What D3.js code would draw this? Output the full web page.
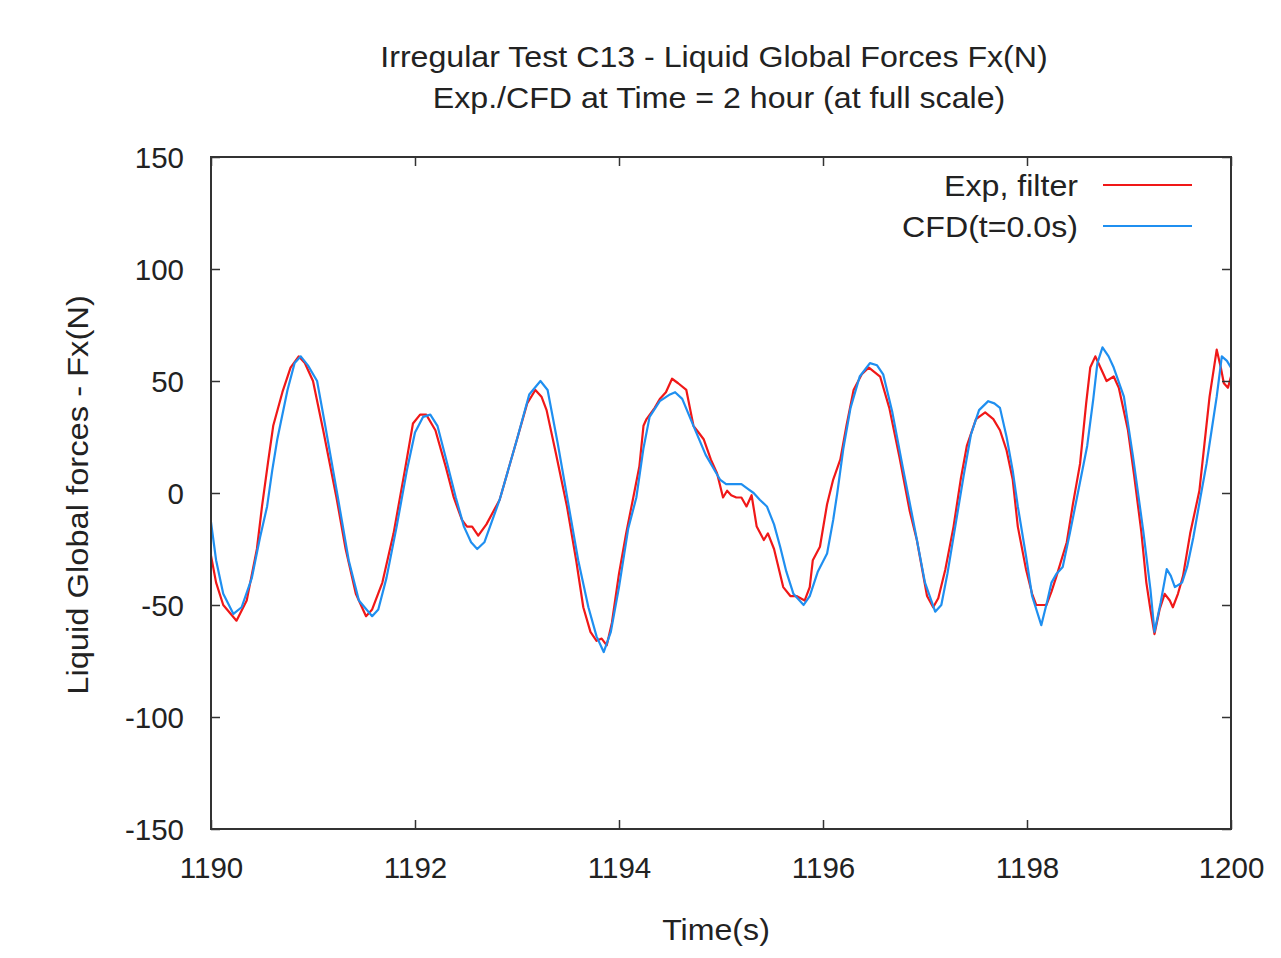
<!DOCTYPE html>
<html>
<head>
<meta charset="utf-8">
<script src="https://cdn.jsdelivr.net/npm/d3@7"></script>
<style>
  html, body { margin: 0; padding: 0; background: #fff; }
  text { font-family: "Liberation Sans", Arial, sans-serif; fill: #222; }
</style>
</head>
<body>
<svg id="chart" width="1281" height="958"></svg>
<script>
// ---- data ----
const titleLines = ["Irregular Test C13 - Liquid Global Forces Fx(N)", "Exp./CFD at Time = 2 hour (at full scale)"];
const xLabel = "Time(s)";
const yLabel = "Liquid Global forces - Fx(N)";
const seriesNames = ["Exp, filter", "CFD(t=0.0s)"];
const xTicks = [1190, 1192, 1194, 1196, 1198, 1200];
const yTicks = [-150, -100, -50, 0, 50, 100, 150];

const expTime = [1190.00,1190.05,1190.12,1190.25,1190.35,1190.45,1190.50,1190.56,1190.61,1190.70,1190.78,1190.86,1190.92,1191.00,1191.10,1191.23,1191.32,1191.42,1191.52,1191.58,1191.68,1191.79,1191.90,1191.98,1192.05,1192.11,1192.20,1192.30,1192.38,1192.46,1192.51,1192.56,1192.62,1192.70,1192.83,1193.00,1193.10,1193.18,1193.24,1193.29,1193.38,1193.49,1193.58,1193.65,1193.72,1193.78,1193.83,1193.88,1193.93,1194.00,1194.07,1194.14,1194.20,1194.24,1194.27,1194.35,1194.40,1194.46,1194.52,1194.58,1194.66,1194.73,1194.78,1194.83,1194.90,1194.96,1195.02,1195.06,1195.10,1195.15,1195.20,1195.25,1195.30,1195.35,1195.42,1195.46,1195.52,1195.61,1195.68,1195.74,1195.82,1195.87,1195.90,1195.97,1196.04,1196.10,1196.17,1196.23,1196.30,1196.38,1196.45,1196.56,1196.65,1196.75,1196.85,1196.92,1197.02,1197.08,1197.13,1197.20,1197.28,1197.35,1197.41,1197.50,1197.59,1197.67,1197.735,1197.80,1197.86,1197.91,1197.99,1198.05,1198.09,1198.19,1198.24,1198.29,1198.39,1198.45,1198.52,1198.58,1198.62,1198.67,1198.72,1198.78,1198.85,1198.90,1198.99,1199.05,1199.12,1199.17,1199.21,1199.25,1199.30,1199.35,1199.40,1199.43,1199.48,1199.53,1199.60,1199.69,1199.74,1199.79,1199.86,1199.90,1199.93,1199.97,1200.00];
const expForce = [-28,-40,-50,-57,-48,-25,-6,14,30,45,56,61,58,50,28,-2,-25,-45,-55,-52,-40,-18,10,31,35,35,28,12,-2,-12,-15,-15,-19,-14,-3,24,40,46,43,37,18,-6,-30,-51,-62,-66,-65,-68,-58,-36,-18,-2,12,30,33,38,42,45,51,49,46,30,27,24,15,9,-2,1,-1,-2,-2,-6,-1,-15,-21,-18,-25,-42,-46,-46,-48,-42,-30,-24,-5,6,15,30,46,53,56,52,38,16,-8,-21,-46,-51,-47,-34,-15,6,21,33,36,33,28,19,6,-15,-34,-45,-50,-50,-44,-37,-22,-5,13,40,56,61,56,50,52,47,28,8,-17,-40,-52,-63,-52,-45,-48,-51,-45,-37,-18,1,22,43,64,56,49,47,52];

const cfdTime = [1190.00,1190.05,1190.12,1190.22,1190.30,1190.40,1190.48,1190.55,1190.60,1190.65,1190.75,1190.82,1190.88,1190.95,1191.04,1191.12,1191.24,1191.35,1191.45,1191.58,1191.64,1191.72,1191.82,1191.92,1192.00,1192.08,1192.15,1192.22,1192.30,1192.40,1192.48,1192.55,1192.61,1192.68,1192.83,1193.00,1193.12,1193.23,1193.30,1193.40,1193.50,1193.60,1193.70,1193.78,1193.85,1193.92,1194.00,1194.09,1194.17,1194.24,1194.30,1194.40,1194.50,1194.55,1194.62,1194.73,1194.85,1194.99,1195.05,1195.12,1195.20,1195.26,1195.32,1195.38,1195.45,1195.52,1195.58,1195.64,1195.71,1195.81,1195.87,1195.95,1196.04,1196.10,1196.14,1196.20,1196.27,1196.36,1196.46,1196.53,1196.59,1196.68,1196.78,1196.90,1197.00,1197.10,1197.16,1197.22,1197.30,1197.38,1197.45,1197.53,1197.62,1197.68,1197.735,1197.80,1197.86,1197.91,1197.99,1198.05,1198.14,1198.20,1198.24,1198.29,1198.35,1198.42,1198.49,1198.59,1198.65,1198.69,1198.74,1198.80,1198.85,1198.95,1199.04,1199.14,1199.21,1199.25,1199.31,1199.37,1199.41,1199.45,1199.52,1199.57,1199.63,1199.70,1199.76,1199.81,1199.86,1199.91,1199.96,1200.00];
const cfdForce = [-13,-30,-45,-54,-51,-38,-20,-6,10,24,46,58,61,57,50,30,-1,-30,-48,-55,-52,-38,-15,10,27,34,35,30,16,-2,-15,-22,-25,-22,-3,24,44,50,46,22,-4,-30,-51,-64,-71,-62,-42,-16,-2,20,34,41,44,45,42,30,17,6,4,4,4,2,0,-3,-6,-14,-24,-35,-45,-50,-46,-35,-27,-12,0,20,38,52,58,57,53,36,12,-16,-40,-53,-50,-36,-14,8,26,37,41,40,38,25,10,-6,-28,-46,-59,-48,-40,-36,-33,-18,-2,21,42,58,65,61,56,43,16,-17,-43,-62,-49,-34,-37,-42,-40,-33,-20,-2,13,28,43,61,59,56];

const seriesColors = ["#f01818", "#1f8ff0"];

// ---- layout ----
const svg = d3.select("#chart");
const plotL = 211, plotR = 1231, plotT = 157, plotB = 829;
const x = d3.scaleLinear().domain([1190, 1200]).range([plotL, plotR]);
const y = d3.scaleLinear().domain([-150, 150]).range([plotB, plotT]);
const axisColor = "#333";
const stretch = 1.09;

function addText(tx, ty, str, anchor, size, rot) {
  return svg.append("text")
    .attr("transform", `translate(${tx},${ty})` + (rot ? ` rotate(${rot})` : "") + ` scale(${stretch},1)`)
    .attr("text-anchor", anchor).attr("font-size", size).text(str);
}

// titles
addText(714, 67, titleLines[0], "middle", 29.5);
addText(719, 108, titleLines[1], "middle", 29.5);

// clip for curves
svg.append("defs").append("clipPath").attr("id", "clip")
  .append("rect").attr("x", plotL).attr("y", plotT).attr("width", plotR - plotL).attr("height", plotB - plotT);

const line = d3.line().x(d => x(d[0])).y(d => y(d[1]));
const expData = expTime.map((t, i) => [t, expForce[i]]);
const cfdData = cfdTime.map((t, i) => [t, cfdForce[i]]);

const g = svg.append("g").attr("clip-path", "url(#clip)");
g.append("path").datum(expData).attr("d", line).attr("fill", "none")
  .attr("stroke", seriesColors[0]).attr("stroke-width", 2.2).attr("stroke-linejoin", "round");
g.append("path").datum(cfdData).attr("d", line).attr("fill", "none")
  .attr("stroke", seriesColors[1]).attr("stroke-width", 2.2).attr("stroke-linejoin", "round");

// axes with inward ticks (mirrored)
const tickLen = 9;
const fmt = d => String(d);
const bottomAxis = d3.axisBottom(x).tickValues(xTicks).tickSize(-tickLen).tickPadding(28).tickFormat(fmt);
const topAxis = d3.axisTop(x).tickValues(xTicks).tickSize(-tickLen).tickFormat("");
const leftAxis = d3.axisLeft(y).tickValues(yTicks).tickSize(-tickLen).tickPadding(27).tickFormat(fmt);
const rightAxis = d3.axisRight(y).tickValues(yTicks).tickSize(-tickLen).tickFormat("");

function styleAxis(sel) {
  sel.select(".domain").remove();
  sel.selectAll(".tick line").attr("stroke", axisColor).attr("stroke-width", 1.5);
  sel.selectAll(".tick text").attr("font-family", "Liberation Sans, Arial, sans-serif")
    .attr("font-size", 29.5).attr("fill", "#222");
}
svg.append("g").attr("transform", `translate(0,${plotB})`).call(bottomAxis).call(styleAxis);
svg.append("g").attr("transform", `translate(0,${plotT})`).call(topAxis).call(styleAxis);
svg.append("g").attr("transform", `translate(${plotL},0)`).call(leftAxis).call(styleAxis)
  .selectAll(".tick text").attr("dy", "0.36em");
svg.append("g").attr("transform", `translate(${plotR},0)`).call(rightAxis).call(styleAxis);

// frame
svg.append("rect").attr("x", plotL).attr("y", plotT).attr("width", plotR - plotL).attr("height", plotB - plotT)
  .attr("fill", "none").attr("stroke", axisColor).attr("stroke-width", 2);

// axis labels
addText(716, 940, xLabel, "middle", 29.5);
addText(88, 495, yLabel, "middle", 30, -90);

// legend
const legY = [185, 226];
seriesNames.forEach((name, i) => {
  addText(1078, legY[i] + 11, name, "end", 29.5);
  svg.append("line").attr("x1", 1103).attr("x2", 1192).attr("y1", legY[i]).attr("y2", legY[i])
    .attr("stroke", seriesColors[i]).attr("stroke-width", 2.2);
});
</script>
</body>
</html>
